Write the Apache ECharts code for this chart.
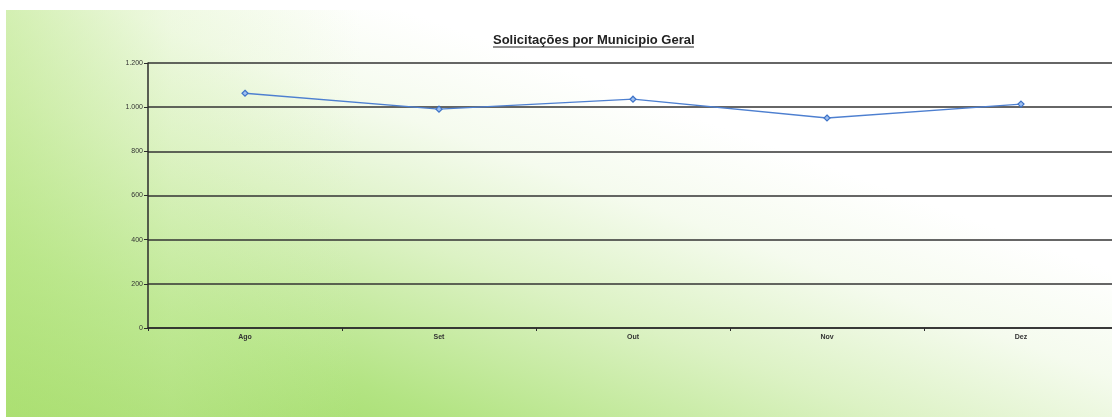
<!DOCTYPE html>
<html>
<head>
<meta charset="utf-8">
<script src="https://cdn.jsdelivr.net/npm/echarts@6/dist/echarts.min.js"></script>
<style>
  html, body { margin: 0; padding: 0; background: #fff; }
  #bg {
    position: absolute; left: 6px; top: 10px; width: 1106px; height: 407px;
    background:
      linear-gradient(to right, rgba(190, 232, 140, 0.55) 0%, rgba(220, 243, 190, 0.3) 15%, rgba(255, 255, 255, 0) 32%),
      linear-gradient(to top right, #94d552 0%, #b3e483 20%, #dcf2c4 40%, #f5fbee 55%, #ffffff 68%, #ffffff 100%);
  }
  #chart { position: absolute; left: 0; top: 0; width: 1112px; height: 417px; }
</style>
</head>
<body>
<div id="bg"></div>
<div id="chart"></div>
<script>
// Solicitações por município - geral
const meses = ["Ago", "Set", "Out", "Nov", "Dez"];
const solicitacoes = [1063, 991, 1036, 951, 1014];
const yTicks = [0, 200, 400, 600, 800, 1000, 1200];

let chart = echarts.init(document.getElementById("chart"));
let option = {
  backgroundColor: "transparent",
  animation: false,
  title: {
    text: "Solicitações por Municipio Geral",
    left: 493,
    top: 34,
    padding: 0,
    textStyle: {
      fontFamily: "Liberation Sans, Arial",
      fontSize: 13,
      fontWeight: "bold",
      color: "#222",
    },
  },
  graphic: [
    {
      type: "rect",
      shape: { x: 493, y: 46.5, width: 201, height: 1 },
      style: { fill: "#222" },
    },
  ],
  grid: {
    left: 148,
    top: 63,
    height: 265,
    width: 970,
    outerBoundsMode: "none",
  },
  xAxis: {
    type: "category",
    data: meses,
    boundaryGap: true,
    axisLine: { lineStyle: { color: "#2b2b2b", width: 1.5 } },
    axisTick: { show: true, length: 3, inside: false, lineStyle: { color: "#2b2b2b" } },
    axisLabel: {
      fontFamily: "Liberation Sans, Arial",
      fontSize: 7,
      fontWeight: "bold",
      color: "#333",
      margin: 6,
    },
  },
  yAxis: {
    type: "value",
    min: yTicks[0],
    max: yTicks[yTicks.length - 1],
    interval: 200,
    axisLine: { show: true, lineStyle: { color: "#2b2b2b", width: 1.5 } },
    axisTick: { show: true, length: 4, lineStyle: { color: "#2b2b2b" } },
    axisLabel: {
      fontFamily: "Liberation Sans, Arial",
      fontSize: 7,
      color: "#333",
      margin: 5,
      formatter: (val) => {
        return val >= 1000 ? Math.floor(val / 1000) + "." + String(val % 1000).padStart(3, "0") : String(val);
      },
    },
    splitLine: { show: true, lineStyle: { color: "#333", width: 1.5 } },
  },
  series: [
    {
      name: "Solicitações",
      type: "line",
      data: solicitacoes,
      symbol: "diamond",
      symbolSize: 6,
      itemStyle: { color: "#9fc0f0", borderColor: "#3e73c8", borderWidth: 1.2 },
      lineStyle: { color: "#4d7fd0", width: 1.3 },
    },
  ],
};
option && chart.setOption(option);
</script>
</body>
</html>
